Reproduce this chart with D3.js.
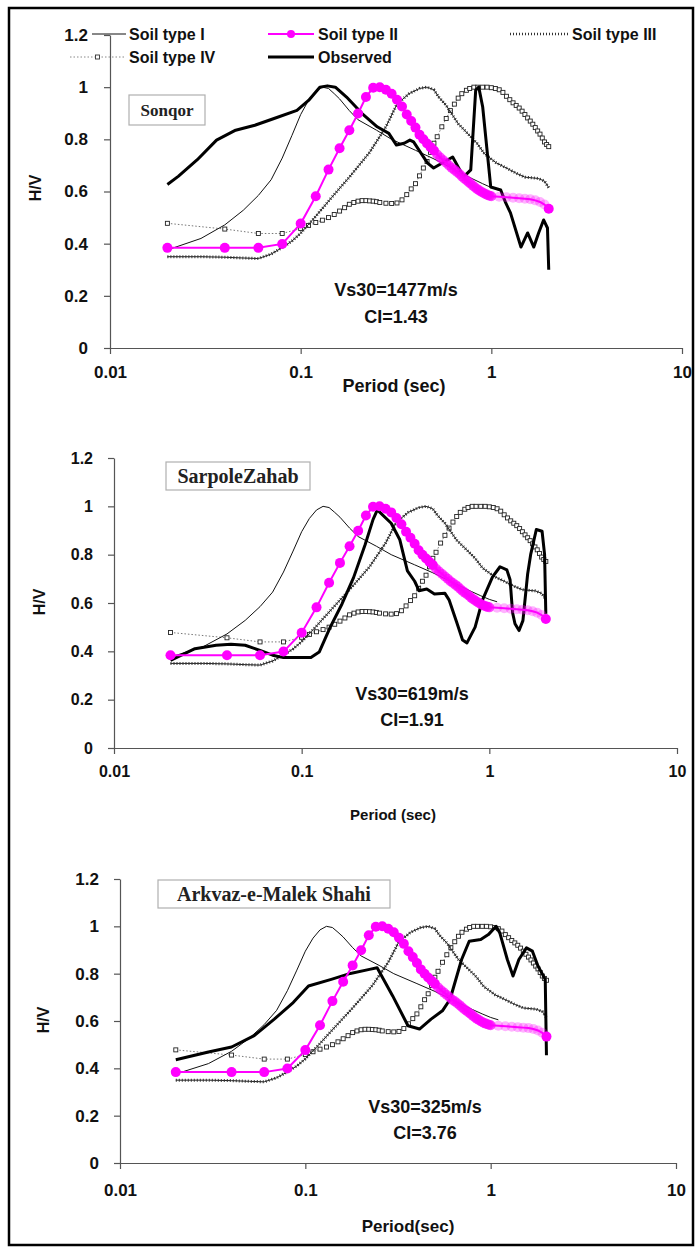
<!DOCTYPE html>
<html>
<head>
<meta charset="utf-8">
<script src="https://cdn.jsdelivr.net/npm/d3@7"></script>
<style>
  body { margin: 0; background: #fff; }
  svg { display: block; }
  text { font-family: Arial, 'Liberation Sans', sans-serif; }
</style>
</head>
<body>
<svg id="chart" width="699" height="1252"></svg>
<script>
// tick values
var periodTicks = [0.01, 0.1, 1, 10];
var hvTicks = [0, 0.2, 0.4, 0.6, 0.8, 1, 1.2];

// theoretical H/V curves for the four soil types: [period (s), H/V]
var soilI = [
  [0.02, 0.376], [0.03, 0.42], [0.04, 0.472], [0.05, 0.528], [0.06, 0.585],
  [0.07, 0.645], [0.08, 0.728], [0.09, 0.815], [0.1, 0.895], [0.11, 0.95],
  [0.12, 0.985], [0.13, 1.0], [0.14, 0.995], [0.15, 0.975], [0.16, 0.955],
  [0.18, 0.91], [0.2, 0.875], [0.25, 0.835], [0.3, 0.8], [0.4, 0.758],
  [0.5, 0.725], [0.6, 0.695], [0.7, 0.67], [0.8, 0.648], [0.9, 0.63],
  [1.0, 0.615], [1.1, 0.605]
];

var soilII = [
  [0.02, 0.384], [0.04, 0.384], [0.06, 0.384], [0.08, 0.399], [0.1, 0.477],
  [0.12, 0.582], [0.14, 0.684], [0.16, 0.766], [0.18, 0.835], [0.2, 0.899],
  [0.22, 0.962], [0.24, 0.998], [0.26, 1.0], [0.28, 0.99], [0.3, 0.975],
  [0.32, 0.952], [0.34, 0.926], [0.36, 0.895], [0.38, 0.87], [0.4, 0.845],
  [0.42, 0.818], [0.44, 0.8], [0.46, 0.784], [0.48, 0.77], [0.5, 0.757],
  [0.52, 0.742], [0.54, 0.73], [0.56, 0.72], [0.58, 0.71], [0.6, 0.7],
  [0.62, 0.69], [0.64, 0.683], [0.66, 0.675], [0.68, 0.667], [0.7, 0.658],
  [0.72, 0.65], [0.74, 0.643], [0.76, 0.636], [0.78, 0.63], [0.8, 0.622],
  [0.82, 0.616], [0.84, 0.61], [0.86, 0.605], [0.88, 0.6], [0.9, 0.596],
  [0.92, 0.592], [0.94, 0.589], [0.96, 0.586], [0.98, 0.584], [1.0, 0.582],
  [1.1, 0.58], [1.2, 0.578], [1.3, 0.576], [1.4, 0.574], [1.5, 0.572],
  [1.6, 0.57], [1.7, 0.566], [1.8, 0.56], [1.9, 0.55], [2.0, 0.534]
];

var soilIII = [
  [0.02, 0.35], [0.03, 0.35], [0.04, 0.348], [0.05, 0.345], [0.06, 0.343],
  [0.07, 0.36], [0.08, 0.385], [0.09, 0.41], [0.1, 0.44], [0.12, 0.505],
  [0.145, 0.576], [0.18, 0.655], [0.23, 0.75], [0.28, 0.848], [0.32, 0.935],
  [0.37, 0.975], [0.42, 0.995], [0.46, 1.0], [0.5, 0.99], [0.53, 0.962],
  [0.58, 0.93], [0.67, 0.86], [0.78, 0.81], [0.84, 0.785], [0.92, 0.745],
  [1.06, 0.71], [1.2, 0.69], [1.35, 0.67], [1.5, 0.655], [1.76, 0.65],
  [1.9, 0.64], [2.0, 0.615]
];

var soilIV = [
  [0.02, 0.478], [0.04, 0.456], [0.06, 0.439], [0.08, 0.439], [0.1, 0.458],
  [0.11, 0.47], [0.12, 0.481], [0.13, 0.49], [0.14, 0.5], [0.15, 0.512],
  [0.16, 0.525], [0.17, 0.538], [0.18, 0.551], [0.19, 0.558], [0.2, 0.563],
  [0.21, 0.565], [0.22, 0.565], [0.23, 0.564], [0.24, 0.563], [0.25, 0.561],
  [0.26, 0.558], [0.28, 0.555], [0.3, 0.554], [0.32, 0.556], [0.34, 0.568],
  [0.36, 0.588], [0.38, 0.61], [0.4, 0.63], [0.42, 0.66], [0.44, 0.69],
  [0.46, 0.715], [0.48, 0.75], [0.5, 0.785], [0.52, 0.81], [0.55, 0.848],
  [0.58, 0.88], [0.61, 0.91], [0.64, 0.935], [0.67, 0.958], [0.7, 0.975],
  [0.74, 0.988], [0.77, 0.995], [0.81, 1.0], [0.85, 1.0], [0.9, 1.0],
  [0.95, 1.0], [1.0, 0.998], [1.05, 0.995], [1.1, 0.99], [1.15, 0.98],
  [1.2, 0.965], [1.25, 0.952], [1.3, 0.94], [1.35, 0.93], [1.4, 0.92],
  [1.45, 0.908], [1.5, 0.895], [1.55, 0.882], [1.6, 0.87], [1.65, 0.858],
  [1.7, 0.845], [1.75, 0.832], [1.8, 0.82], [1.85, 0.805], [1.9, 0.79],
  [1.95, 0.78], [2.0, 0.772]
];

// observed H/V per station
var observedSonqor = [
  [0.02, 0.627], [0.0228, 0.658], [0.0287, 0.722], [0.0362, 0.797], [0.0456, 0.835],
  [0.0575, 0.854], [0.0725, 0.88], [0.0956, 0.911], [0.11, 0.949], [0.126, 1.0],
  [0.138, 1.005], [0.152, 1.0], [0.174, 0.962], [0.21, 0.899], [0.252, 0.848],
  [0.29, 0.823], [0.318, 0.778], [0.349, 0.785], [0.374, 0.797], [0.391, 0.79],
  [0.463, 0.709], [0.498, 0.69], [0.627, 0.732], [0.716, 0.656], [0.78, 0.683],
  [0.828, 0.989], [0.859, 1.0], [0.901, 0.924], [0.993, 0.617], [1.12, 0.606],
  [1.19, 0.556], [1.26, 0.518], [1.43, 0.387], [1.55, 0.441], [1.67, 0.387],
  [1.77, 0.441], [1.88, 0.491], [1.97, 0.46], [2.0, 0.3]
];

var observedSarpole = [
  [0.02, 0.363], [0.027, 0.411], [0.035, 0.425], [0.042, 0.429], [0.05, 0.425],
  [0.06, 0.404], [0.07, 0.384], [0.08, 0.374], [0.1, 0.374], [0.112, 0.374],
  [0.124, 0.397], [0.142, 0.5], [0.164, 0.596], [0.189, 0.705], [0.218, 0.842],
  [0.24, 0.945], [0.253, 0.985], [0.3, 0.93], [0.333, 0.863], [0.366, 0.733],
  [0.4, 0.69], [0.422, 0.651], [0.464, 0.658], [0.51, 0.637], [0.58, 0.64],
  [0.61, 0.613], [0.67, 0.52], [0.72, 0.447], [0.76, 0.435], [0.84, 0.5],
  [0.92, 0.613], [1.04, 0.708], [1.14, 0.75], [1.24, 0.737], [1.29, 0.696],
  [1.33, 0.56], [1.37, 0.514], [1.44, 0.486], [1.51, 0.527], [1.6, 0.72],
  [1.66, 0.8], [1.78, 0.904], [1.91, 0.897], [1.97, 0.8], [2.0, 0.555]
];

var observedArkvaz = [
  [0.02, 0.436], [0.03, 0.469], [0.04, 0.49], [0.053, 0.538], [0.068, 0.608],
  [0.086, 0.678], [0.104, 0.748], [0.138, 0.776], [0.175, 0.801], [0.222, 0.818],
  [0.244, 0.825], [0.296, 0.706], [0.358, 0.58], [0.413, 0.566], [0.477, 0.608],
  [0.549, 0.643], [0.604, 0.692], [0.697, 0.86], [0.766, 0.937], [0.884, 0.944],
  [0.972, 0.965], [1.07, 1.0], [1.12, 0.972], [1.23, 0.86], [1.32, 0.79],
  [1.42, 0.86], [1.56, 0.909], [1.68, 0.895], [1.8, 0.832], [1.97, 0.776],
  [2.0, 0.455]
];

var stationNames = ['Sonqor', 'SarpoleZahab', 'Arkvaz-e-Malek Shahi'];
var vs30Labels = ['Vs30=1477m/s', 'Vs30=619m/s', 'Vs30=325m/s'];
var ciLabels = ['CI=1.43', 'CI=1.91', 'CI=3.76'];
var xTitles = ['Period (sec)', 'Period (sec)', 'Period(sec)'];
var observedSets = [observedSonqor, observedSarpole, observedArkvaz];
var legendNames = ['Soil type I', 'Soil type II', 'Soil type III', 'Soil type IV', 'Observed'];

var MAGENTA = '#ff00ff';

// layout of each panel, in pixels
var layouts = [
  { left: 110, right: 682, bottom: 348, top: 35, yLabelX: 88, tickFont: 17, xLabelY: 378,
    titleX: 394, titleY: 392, titleFont: 18, hvX: 35, hvY: 188,
    box: [129, 95, 76, 30], boxFont: 17, noteX: 396, vsY: 296, ciY: 323, noteFont: 18 },
  { left: 114, right: 677, bottom: 748, top: 458, yLabelX: 93, tickFont: 16, xLabelY: 777,
    titleX: 393, titleY: 820, titleFont: 15, hvX: 39, hvY: 602,
    box: [166, 462, 144, 28], boxFont: 20, noteX: 412, vsY: 700, ciY: 726, noteFont: 18 },
  { left: 120, right: 676, bottom: 1163, top: 879, yLabelX: 99, tickFont: 17, xLabelY: 1196,
    titleX: 408, titleY: 1232, titleFont: 17, hvX: 43, hvY: 1020,
    box: [158, 880, 232, 28], boxFont: 20, noteX: 425, vsY: 1113, ciY: 1139, noteFont: 18 }
];

var svg = d3.select('#chart');

svg.append('rect')
  .attr('x', 9).attr('y', 8)
  .attr('width', 684).attr('height', 1237)
  .attr('fill', 'none')
  .attr('stroke', '#000')
  .attr('stroke-width', 2.5);

layouts.forEach(function(lay, i) {
  drawPanel(lay, i);
});
drawLegend();

function drawPanel(lay, i) {
  var g = svg.append('g').attr('class', 'panel-' + i);
  var x = d3.scaleLog().domain([0.01, 10]).range([lay.left, lay.right]);
  var y = d3.scaleLinear().domain([0, 1.2]).range([lay.bottom, lay.top]);

  // station name box
  g.append('rect')
    .attr('x', lay.box[0]).attr('y', lay.box[1])
    .attr('width', lay.box[2]).attr('height', lay.box[3])
    .attr('fill', '#fff')
    .attr('stroke', '#b0b0b0')
    .attr('stroke-width', 1.2);
  g.append('text')
    .attr('x', lay.box[0] + lay.box[2] / 2)
    .attr('y', lay.box[1] + lay.box[3] / 2)
    .attr('dy', '0.35em')
    .attr('text-anchor', 'middle')
    .style('font-family', "'Liberation Serif', 'Times New Roman', serif")
    .style('font-weight', 'bold')
    .style('font-size', lay.boxFont + 'px')
    .attr('fill', '#222')
    .text(stationNames[i]);

  // axes
  var xAxis = d3.axisBottom(x)
    .tickValues(periodTicks)
    .tickFormat(function(d) { return String(d); })
    .tickSize(6)
    .tickSizeOuter(0);
  var yAxis = d3.axisLeft(y)
    .tickValues(hvTicks)
    .tickFormat(function(d) { return String(d); })
    .tickSize(6)
    .tickSizeOuter(0);

  var gx = g.append('g')
    .attr('transform', 'translate(0,' + lay.bottom + ')')
    .call(xAxis);
  var gy = g.append('g')
    .attr('transform', 'translate(' + lay.left + ',0)')
    .call(yAxis);

  [gx, gy].forEach(function(ax) {
    ax.select('.domain').attr('stroke', '#555').attr('stroke-width', 1.2);
    ax.selectAll('.tick line').attr('stroke', '#555').attr('stroke-width', 1.2);
    ax.selectAll('.tick text')
      .attr('fill', '#111')
      .style('font-size', lay.tickFont + 'px')
      .style('font-weight', 'bold');
  });
  gx.selectAll('.tick text').attr('y', lay.xLabelY - lay.bottom).attr('dy', 0);
  gy.selectAll('.tick text').attr('x', lay.yLabelX - lay.left);

  g.append('text')
    .attr('transform', 'translate(' + lay.hvX + ',' + lay.hvY + ') rotate(-90)')
    .attr('text-anchor', 'middle')
    .attr('dy', '0.35em')
    .style('font-size', '16px')
    .style('font-weight', 'bold')
    .attr('fill', '#111')
    .text('H/V');

  g.append('text')
    .attr('x', lay.titleX).attr('y', lay.titleY)
    .attr('text-anchor', 'middle')
    .style('font-size', lay.titleFont + 'px')
    .style('font-weight', 'bold')
    .attr('fill', '#111')
    .text(xTitles[i]);

  var line = d3.line()
    .x(function(d) { return x(d[0]); })
    .y(function(d) { return y(d[1]); });

  // Soil type IV: dotted line with small open squares
  g.append('path')
    .attr('d', line(soilIV))
    .attr('fill', 'none')
    .attr('stroke', '#777')
    .attr('stroke-width', 1)
    .attr('stroke-dasharray', '1.5,2');
  g.selectAll('.sq').data(soilIV).enter()
    .append('rect')
    .attr('class', 'sq')
    .attr('x', function(d) { return x(d[0]) - 2; })
    .attr('y', function(d) { return y(d[1]) - 2; })
    .attr('width', 4).attr('height', 4)
    .attr('fill', '#fff')
    .attr('stroke', '#222')
    .attr('stroke-width', 0.9);

  // Soil type III: fuzzy thin line
  g.append('path')
    .attr('d', line(soilIII))
    .attr('fill', 'none')
    .attr('stroke', '#222')
    .attr('stroke-width', 1);
  g.append('path')
    .attr('d', line(soilIII))
    .attr('fill', 'none')
    .attr('stroke', '#333')
    .attr('stroke-width', 3)
    .attr('stroke-dasharray', '1,2');

  // Soil type I: thin solid line
  g.append('path')
    .attr('d', line(soilI))
    .attr('fill', 'none')
    .attr('stroke', '#111')
    .attr('stroke-width', 1);

  // Observed: thick black line
  g.append('path')
    .attr('d', line(observedSets[i]))
    .attr('fill', 'none')
    .attr('stroke', '#000')
    .attr('stroke-width', 3)
    .attr('stroke-linejoin', 'round');

  // Soil type II: magenta line with round markers
  g.append('path')
    .attr('d', line(soilII))
    .attr('fill', 'none')
    .attr('stroke', MAGENTA)
    .attr('stroke-width', 2);
  g.selectAll('.dot').data(soilII).enter()
    .append('circle')
    .attr('class', 'dot')
    .attr('cx', function(d) { return x(d[0]); })
    .attr('cy', function(d) { return y(d[1]); })
    .attr('r', 5)
    .attr('fill', MAGENTA)
    .attr('opacity', function(d) {
      if (d[0] >= 2) return 1;
      if (d[0] > 1) return 0.3;
      if (d[0] > 0.5) return 0.7;
      return 1;
    });

  // site note
  g.append('text')
    .attr('x', lay.noteX).attr('y', lay.vsY)
    .attr('text-anchor', 'middle')
    .style('font-size', lay.noteFont + 'px')
    .style('font-weight', 'bold')
    .attr('fill', '#111')
    .text(vs30Labels[i]);
  g.append('text')
    .attr('x', lay.noteX).attr('y', lay.ciY)
    .attr('text-anchor', 'middle')
    .style('font-size', lay.noteFont + 'px')
    .style('font-weight', 'bold')
    .attr('fill', '#111')
    .text(ciLabels[i]);
}

function drawLegend() {
  var lg = svg.append('g').attr('class', 'legend');
  // [sample x0, sample x1, text x, row y]
  var spots = [
    [92, 126, 129, 34],
    [268, 314, 318, 34],
    [510, 568, 572, 34],
    [70, 125, 129, 57],
    [268, 314, 318, 57]
  ];
  spots.forEach(function(s, k) {
    var mid = (s[0] + s[1]) / 2;
    if (k === 0) {
      lg.append('line').attr('x1', s[0]).attr('x2', s[1]).attr('y1', s[3]).attr('y2', s[3])
        .attr('stroke', '#111').attr('stroke-width', 1);
    } else if (k === 1) {
      lg.append('line').attr('x1', s[0]).attr('x2', s[1]).attr('y1', s[3]).attr('y2', s[3])
        .attr('stroke', MAGENTA).attr('stroke-width', 2);
      lg.append('circle').attr('cx', mid).attr('cy', s[3]).attr('r', 4).attr('fill', MAGENTA);
    } else if (k === 2) {
      lg.append('line').attr('x1', s[0]).attr('x2', s[1]).attr('y1', s[3]).attr('y2', s[3])
        .attr('stroke', '#333').attr('stroke-width', 2.5).attr('stroke-dasharray', '1,2');
    } else if (k === 3) {
      lg.append('line').attr('x1', s[0]).attr('x2', s[1]).attr('y1', s[3]).attr('y2', s[3])
        .attr('stroke', '#888').attr('stroke-width', 1).attr('stroke-dasharray', '1.5,2');
      lg.append('rect').attr('x', mid - 2).attr('y', s[3] - 2).attr('width', 4).attr('height', 4)
        .attr('fill', '#fff').attr('stroke', '#333').attr('stroke-width', 0.9);
    } else {
      lg.append('line').attr('x1', s[0]).attr('x2', s[1]).attr('y1', s[3]).attr('y2', s[3])
        .attr('stroke', '#000').attr('stroke-width', 3);
    }
    lg.append('text')
      .attr('x', s[2]).attr('y', s[3])
      .attr('dy', '0.35em')
      .style('font-size', '16px')
      .style('font-weight', 'bold')
      .attr('fill', '#111')
      .text(legendNames[k]);
  });
}
</script>
</body>
</html>
